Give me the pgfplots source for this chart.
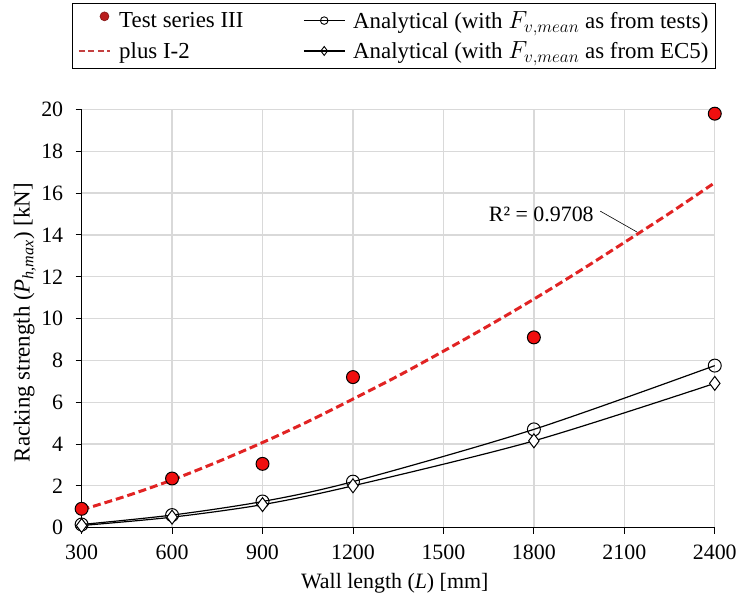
\documentclass[border=0pt]{standalone}
\usepackage{pgfplots}
\pgfplotsset{compat=1.18}
\usepackage{fontspec}
\setmainfont{Liberation Serif}
\definecolor{ptred}{RGB}{240,15,15}
\definecolor{trendred}{RGB}{225,35,35}
\definecolor{legred}{RGB}{185,30,30}
\definecolor{gridgray}{RGB}{217,217,217}
\pgfplotsset{
  longline/.style={legend image code/.code={
      \draw[mark repeat=2,mark phase=2,##1] plot coordinates {(0cm,0cm) (0.72cm,0cm) (1.44cm,0cm)};}},
  dashline/.style={legend image code/.code={
      \draw[##1] (0cm,0cm) -- (1.1cm,0cm);}},
  dotonly/.style={legend image code/.code={
      \draw[##1] plot coordinates {(0.9cm,0.15cm)};}},
}
\begin{document}
\begin{tikzpicture}[font=\fontsize{22}{26}\selectfont]
\begin{axis}[
    scale only axis, width=636pt, height=420pt,
    xmin=300, xmax=2400, ymin=0, ymax=20,
    xtick={300,600,...,2400}, ytick={0,2,...,20},
    axis lines=left, axis line style={-, line width=1.1pt},
    tick align=outside, tick style={black, line width=0.9pt}, major tick length=6pt,
    grid=major, grid style={gridgray, line width=1.3pt},
    /pgf/number format/assume math mode=true,
    /pgf/number format/1000 sep={},
    xticklabel style={yshift=-8pt},
    yticklabel style={xshift=-9pt},
    xlabel={Wall length (\textit{L}) [mm]},
    ylabel={Racking strength (\textit{P}\textsubscript{\textit{h,max}}) [kN]},
    xlabel style={at={(axis description cs:0.4945,-0.133)}, anchor=center},
    ylabel style={at={(axis description cs:-0.0896,0.49)}, anchor=center,
      font=\fontsize{23}{26}\selectfont},
    clip=false,
    legend columns=2,
    legend cell align=left,
    legend style={at={(axis description cs:-0.0146,1.255)}, anchor=north west,
      draw=black, line width=1.1pt, font=\fontsize{23}{26}\selectfont,
      inner xsep=5pt, inner ysep=6pt, row sep=8pt,
      /tikz/column 1/.style={column sep=6pt},
      /tikz/column 2/.style={column sep=58pt},
      /tikz/column 3/.style={column sep=6pt}},
  ]
  % legend entries
  \addlegendimage{dotonly, only marks, mark=*, mark size=4.5pt, mark options={fill=legred, draw=legred!70!black, line width=0.6pt}}
  \addlegendentry{Test series III}
  \addlegendimage{longline, black, line width=1.2pt, mark=o, mark size=3.8pt, mark options={fill=white, line width=0.9pt}}
  \addlegendentry{Analytical (with $F_{v,mean}$ as from tests)}
  \addlegendimage{dashline, legred!85!white, line width=2.2pt, dash pattern=on 6pt off 3.5pt}
  \addlegendentry{plus I-2}
  \addlegendimage{longline, black, line width=1.2pt, mark=diamond, mark size=4.5pt, mark options={fill=white, line width=0.9pt}}
  \addlegendentry{Analytical (with $F_{v,mean}$ as from EC5)}

  % trend line (power fit)
  \addplot[forget plot, trendred, line width=3pt, dash pattern=on 8pt off 4pt, smooth] coordinates {
    (300,0.85) (450,1.52) (600,2.28) (750,3.14) (900,4.07) (1050,5.07) (1200,6.15)
    (1350,7.26) (1500,8.44) (1650,9.66) (1800,10.93) (1950,12.26) (2100,13.64)
    (2250,15.04) (2400,16.5)
  };
  % analytical, F_v,mean from tests
  \addplot[forget plot, black, line width=1.2pt, smooth, mark=o, mark size=6.5pt,
    mark options={fill=white, line width=1pt}] coordinates {
    (300,0.15) (600,0.6) (900,1.25) (1200,2.2) (1800,4.7) (2400,7.75)
  };
  % analytical, F_v,mean from EC5
  \addplot[forget plot, black, line width=1.2pt, smooth, mark=diamond*, mark size=7pt,
    mark options={fill=white, line width=1pt}] coordinates {
    (300,0.1) (600,0.5) (900,1.1) (1200,2.0) (1800,4.15) (2400,6.9)
  };
  % test results
  \addplot[forget plot, only marks, mark=*, mark size=6.5pt,
    mark options={fill=ptred, draw=black, line width=1pt}] coordinates {
    (300,0.9) (600,2.35) (900,3.05) (1200,7.2) (1800,9.1) (2400,19.8)
  };

  \node[anchor=east] at (axis cs:2010,15.0) {R² = 0.9708};
  \draw[black, line width=0.6pt] (axis cs:2020,15.14) -- (axis cs:2142,14.14);

  % fix page extent to the reference proportions
  \path (axis description cs:-0.1289,-0.169) rectangle (axis description cs:1.0346,1.2619);
\end{axis}
\end{tikzpicture}
\end{document}
